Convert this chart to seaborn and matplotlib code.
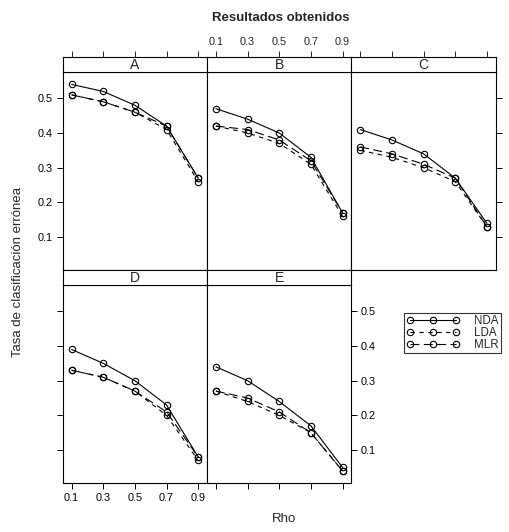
import matplotlib
matplotlib.use("Agg")
import matplotlib.pyplot as plt
import numpy as np
import pandas as pd
import seaborn as sns

sns.set_style("white")
plt.rcParams["font.family"] = ["Liberation Sans", "DejaVu Sans"]

# Correlation levels and error rates per scenario and method
rho = [0.1, 0.3, 0.5, 0.7, 0.9]
scenarios = ["A", "B", "C", "D", "E"]
methods = ["NDA", "LDA", "MLR"]

nda = {
    "A": [0.54, 0.52, 0.48, 0.42, 0.27],
    "B": [0.47, 0.44, 0.40, 0.33, 0.17],
    "C": [0.41, 0.38, 0.34, 0.27, 0.14],
    "D": [0.39, 0.35, 0.30, 0.23, 0.08],
    "E": [0.34, 0.30, 0.24, 0.17, 0.05],
}
lda = {
    "A": [0.51, 0.49, 0.46, 0.41, 0.26],
    "B": [0.42, 0.40, 0.37, 0.31, 0.16],
    "C": [0.35, 0.33, 0.30, 0.26, 0.13],
    "D": [0.33, 0.31, 0.27, 0.20, 0.07],
    "E": [0.27, 0.24, 0.20, 0.15, 0.04],
}
mlr = {
    "A": [0.51, 0.49, 0.46, 0.42, 0.27],
    "B": [0.42, 0.41, 0.38, 0.32, 0.17],
    "C": [0.36, 0.34, 0.31, 0.27, 0.13],
    "D": [0.33, 0.31, 0.27, 0.21, 0.08],
    "E": [0.27, 0.25, 0.21, 0.15, 0.04],
}

series = {"NDA": nda, "LDA": lda, "MLR": mlr}
rows = []
for m in methods:
    for s in scenarios:
        for r, v in zip(rho, series[m][s]):
            rows.append({"scenario": s, "method": m, "rho": r, "error": v})
df = pd.DataFrame(rows)

line_styles = {"NDA": "-", "LDA": (0, (4, 4)), "MLR": (0, (8, 4))}

W, H = 510, 532
fig = plt.figure(figsize=(W / 100, H / 100), dpi=100)

x0, x1 = 62.7, 495.7
pw = (x1 - x0) / 3
row_geom = [  # strip top, strip bottom, panel bottom (pixels)
    (56.7, 72.3, 270.0),
    (270.0, 285.3, 483.0),
]
xlim = (0.044, 0.956)
ylim = (0.005, 0.575)
yticks = [0.1, 0.2, 0.3, 0.4, 0.5]
tick_fs = 7.8
lw = 0.8


def fig_rect(left, top, right, bottom):
    return [left / W, 1 - bottom / H, (right - left) / W, (bottom - top) / H]


handles = None
for i, s in enumerate(scenarios):
    r, c = divmod(i, 3)
    st, sb, pb = row_geom[r]
    left = x0 + c * pw
    ax = fig.add_axes(fig_rect(left, sb, left + pw, pb))
    sax = fig.add_axes(fig_rect(left, st, left + pw, sb), sharex=ax)

    sub = df[df["scenario"] == s]
    for m in methods:
        d = sub[sub["method"] == m]
        sns.lineplot(data=d, x="rho", y="error", ax=ax, color="black",
                     linestyle=line_styles[m], linewidth=lw, marker="o",
                     markersize=4.6, markerfacecolor="none",
                     markeredgecolor="black", markeredgewidth=0.8,
                     estimator=None, sort=False, label=m, legend=False)
    if handles is None:
        handles = ax.get_lines()

    ax.set_xlim(*xlim)
    ax.set_ylim(*ylim)
    ax.set_xlabel("")
    ax.set_ylabel("")
    for sp in ax.spines.values():
        sp.set_visible(True)
        sp.set_color("black")
        sp.set_linewidth(lw)

    ax.set_xticks(rho)
    ax.set_yticks(yticks)
    ax.tick_params(axis="both", direction="out", length=4.5, width=0.7,
                   colors="black", labelsize=tick_fs, pad=2.5,
                   bottom=False, top=False, left=False, right=False,
                   labelbottom=False, labeltop=False, labelleft=False,
                   labelright=False)
    ax.set_xticklabels([str(v) for v in rho])
    ax.set_yticklabels([str(v) for v in yticks])

    # Alternating axis annotation on the outer edges of the layout
    if r == 1:
        ax.tick_params(axis="x", bottom=True, labelbottom=(c == 0))
    if c == 0:
        ax.tick_params(axis="y", left=True, labelleft=(r == 0))
    if (r == 0 and c == 2) or (r == 1 and c == 1):
        ax.tick_params(axis="y", right=True, labelright=(r == 1))

    # Strip with the scenario name
    sax.set_ylim(0, 1)
    sax.set_yticks([])
    sax.tick_params(axis="x", bottom=False, labelbottom=False, top=False,
                    labeltop=False, direction="out", length=4.5, width=0.7,
                    labelsize=tick_fs, pad=2.5)
    if r == 0:
        sax.tick_params(axis="x", top=True, labeltop=(c == 1))
    sax.set_facecolor("white")
    for sp in sax.spines.values():
        sp.set_visible(True)
        sp.set_color("black")
        sp.set_linewidth(lw)
    sax.text(0.5, 0.45, s, transform=sax.transAxes, ha="center",
             va="center", fontsize=10)

fig.text(281 / W, 1 - 18 / H, "Resultados obtenidos", ha="center",
         va="center", fontsize=9.5, fontweight="bold")
fig.text(284 / W, 1 - 519 / H, "Rho", ha="center", va="center",
         fontsize=9.5)
fig.text(18 / W, 1 - 272 / H, "Tasa de clasificación errónea", ha="center",
         va="center", rotation=90, fontsize=9.5)

leg = fig.legend(handles, methods, loc="upper left",
                 bbox_to_anchor=(404 / W, 1 - 312.5 / H), numpoints=3,
                 handlelength=4.6, handletextpad=1.3, labelspacing=0.0,
                 borderpad=0.2, borderaxespad=0, fontsize=8.3,
                 frameon=True, fancybox=False, edgecolor="black")
leg.get_frame().set_linewidth(0.8)

fig.savefig("out.png", dpi=100)
